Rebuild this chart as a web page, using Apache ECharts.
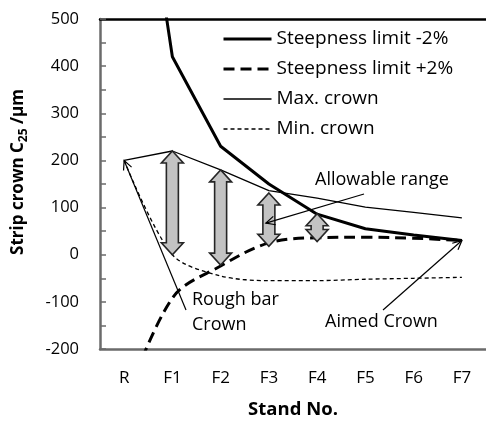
<!DOCTYPE html>
<html>
<head>
<meta charset="utf-8">
<script src="https://cdn.jsdelivr.net/npm/echarts@6/dist/echarts.min.js"></script>
<style>
  html, body { margin: 0; padding: 0; background: #fff; }
  #chart { width: 486px; height: 424px; }
</style>
</head>
<body>
<div id="chart"></div>
<script>
// Stands along the finishing mill
const stands = ['R', 'F1', 'F2', 'F3', 'F4', 'F5', 'F6', 'F7'];
const yTickLabels = [-200, -100, 0, 100, 200, 300, 400, 500];

// Crown limits per stand (µm)
const steepMinus2 = [1100, 420, 230, 150, 86, 55, 42, 30];
const steepPlus2 = [-320, -92, -24, 25, 36, 37, 35, 30];
const maxCrown = [200, 220, 180, 136, 120, 101, 90, 78];
const minCrown = [200, 0, -45, -55, -55, -52, -50, -48];

// Allowable crown range drawn as double arrows
const rangeStands = ['F1', 'F2', 'F3', 'F4'];
const rangeLow = [0, -22, 18, 28];
const rangeHigh = [220, 180, 131, 87];

const FONT = '"Open Sans"';
const FS = 17;
const AXIS_GREY = '#6b6b6b';

const styles = {
  'Steepness limit -2%': { width: 3, type: 'solid' },
  'Steepness limit +2%': { width: 3, type: [11, 6] },
  'Max. crown': { width: 1.3, type: 'solid' },
  'Min. crown': { width: 1.3, type: [4, 3] }
};

const chart = echarts.init(document.getElementById('chart'), null, { renderer: 'canvas' });

function doubleArrow(params, api) {
  const top = api.coord([api.value(0), api.value(2)]);
  const bot = api.coord([api.value(0), api.value(1)]);
  const x = top[0], y1 = top[1], y2 = bot[1];
  const hw = 11, sw = 6;
  const hl = Math.min(12, (y2 - y1) / 2 - 1);
  const pts = [
    [x, y1], [x + hw, y1 + hl], [x + sw, y1 + hl], [x + sw, y2 - hl], [x + hw, y2 - hl],
    [x, y2], [x - hw, y2 - hl], [x - sw, y2 - hl], [x - sw, y1 + hl], [x - hw, y1 + hl]
  ];
  return {
    type: 'polygon',
    shape: { points: pts },
    style: { fill: '#c3c3c3', stroke: '#262626', lineWidth: 1.6 }
  };
}

function lineSeries(name, data, smooth) {
  return {
    name: name, type: 'line', data: data,
    symbol: 'none', clip: true, z: 3, smooth: smooth || false,
    itemStyle: { color: '#000' },
    lineStyle: Object.assign({ color: '#000' }, styles[name])
  };
}

chart.setOption({
  animation: false,
  backgroundColor: '#fff',
  color: ['#000'],
  grid: { left: 100, top: 19, width: 388, height: 330 },
  legend: {
    data: Object.keys(styles).map(n => ({
      name: n,
      lineStyle: Object.assign({ color: '#000' }, styles[n])
    })),
    orient: 'vertical',
    left: 222,
    top: 29,
    padding: 0,
    itemWidth: 48,
    itemHeight: 20,
    itemGap: 10,
    itemStyle: { opacity: 0 },
    textStyle: { fontFamily: FONT, fontSize: 19, color: '#000', lineHeight: 20 }
  },
  xAxis: [{
    type: 'category',
    data: stands,
    boundaryGap: true,
    name: 'Stand No.',
    nameLocation: 'middle',
    nameGap: 51,
    nameTextStyle: { fontFamily: FONT, fontSize: 18.5, fontWeight: 'bold', color: '#000' },
    axisLine: { onZero: false, lineStyle: { color: AXIS_GREY, width: 2.5 } },
    axisTick: { inside: true, length: 5, lineStyle: { color: AXIS_GREY, width: 1.5 } },
    axisLabel: { fontFamily: FONT, fontSize: FS, color: '#000', margin: 21 },
    splitLine: { show: false }
  }, {
    type: 'category',
    data: stands,
    position: 'top',
    axisLine: { onZero: false, lineStyle: { color: '#000', width: 2.5 } },
    axisTick: { show: false },
    axisLabel: { show: false },
    splitLine: { show: false }
  }],
  yAxis: {
    type: 'value',
    min: -200,
    max: 500,
    interval: 50,
    name: '{b|Strip crown C}{s|25}{b| /µm}',
    nameLocation: 'middle',
    nameGap: 70,
    nameRotate: 90,
    nameTextStyle: {
      padding: [0, 0, 0, 24],
      rich: {
        b: { fontFamily: FONT, fontSize: FS, fontWeight: 'bold', color: '#000', lineHeight: 20, verticalAlign: 'top' },
        s: { fontFamily: FONT, fontSize: 12, fontWeight: 'bold', color: '#000', lineHeight: 12, verticalAlign: 'bottom' }
      }
    },
    axisLine: { show: true, onZero: false, lineStyle: { color: AXIS_GREY, width: 2.5 } },
    axisTick: { show: true, inside: true, length: 6, lineStyle: { color: AXIS_GREY, width: 1.5 } },
    axisLabel: {
      fontFamily: FONT, fontSize: 16.5, color: '#000', margin: 21,
      formatter: v => (yTickLabels.includes(v) ? String(v) : '')
    },
    splitLine: { show: false }
  },
  series: [
    lineSeries('Steepness limit -2%', steepMinus2),
    lineSeries('Steepness limit +2%', steepPlus2, 0.35),
    lineSeries('Max. crown', maxCrown),
    lineSeries('Min. crown', minCrown, 0.3),
    {
      name: 'Allowable range', type: 'custom', z: 5,
      data: rangeStands.map((s, i) => [s, rangeLow[i], rangeHigh[i]]),
      encode: { x: 0, y: [1, 2] },
      renderItem: doubleArrow
    }
  ]
});

// Annotation callouts: thin lines ending in open arrowheads
function px(stand, value) {
  return chart.convertToPixel({ xAxisIndex: 0, yAxisIndex: 0 }, [stand, value]);
}
function callout(tail, tip) {
  const ang = Math.atan2(tail[1] - tip[1], tail[0] - tip[0]);
  const L = 10, a = 0.45;
  const p1 = [tip[0] + L * Math.cos(ang + a), tip[1] + L * Math.sin(ang + a)];
  const p2 = [tip[0] + L * Math.cos(ang - a), tip[1] + L * Math.sin(ang - a)];
  const st = { stroke: '#000', lineWidth: 1.2, fill: null };
  return [
    { type: 'line', z: 20, shape: { x1: tail[0], y1: tail[1], x2: tip[0], y2: tip[1] }, style: st },
    { type: 'polyline', z: 20, shape: { points: [p1, tip, p2] }, style: st }
  ];
}
function label(text, x, y) {
  return {
    type: 'text', z: 20, x: x, y: y,
    style: { text: text, fontFamily: FONT, fontSize: 18, fill: '#000', verticalAlign: 'middle', align: 'left' }
  };
}

const roughTip = px('R', maxCrown[0]);
const rangeTip = px('F3', 67); rangeTip[0] -= 3;
const aimTip = px('F7', steepMinus2[7]);

chart.setOption({
  graphic: [
    ...callout([186, 310], roughTip),
    ...callout([364, 194], rangeTip),
    ...callout([383, 310], aimTip),
    label('Rough bar', 192, 300),
    label('Crown', 192, 325),
    label('Allowable range', 315, 180),
    label('Aimed Crown', 325, 322)
  ]
});
</script>
</body>
</html>
